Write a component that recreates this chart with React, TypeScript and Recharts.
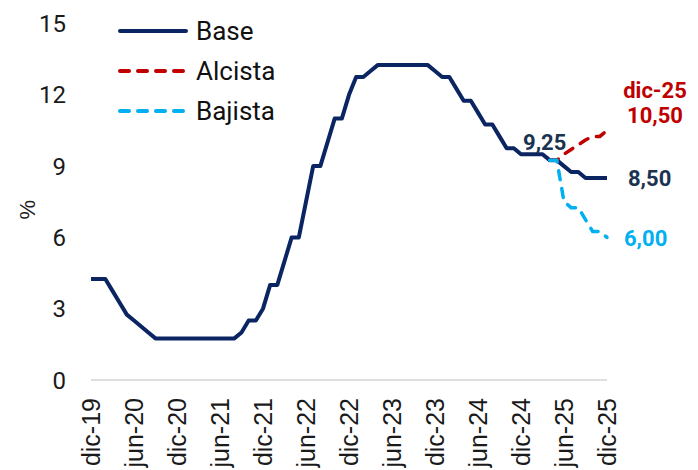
import React from 'react';
import { LineChart, Line, XAxis, YAxis, Legend, LabelList } from 'recharts';

const MONTHS = ['ene', 'feb', 'mar', 'abr', 'may', 'jun', 'jul', 'ago', 'sep', 'oct', 'nov', 'dic'];
const YEARS = ['20', '21', '22', '23', '24', '25'];
const categories: string[] = ['dic-19', ...YEARS.flatMap((y) => MONTHS.map((m) => `${m}-${y}`))];

const xTicks = ['dic-19', 'jun-20', 'dic-20', 'jun-21', 'dic-21', 'jun-22', 'dic-22', 'jun-23', 'dic-23', 'jun-24', 'dic-24', 'jun-25', 'dic-25'];
const yTicks = [0, 3, 6, 9, 12, 15];

// dic-19 .. dic-25 (73 months)
const base: number[] = [
  4.25, 4.25, 4.25, 3.75, 3.25, 2.75, 2.5, 2.25, 2.0, 1.75, 1.75, 1.75, 1.75,
  1.75, 1.75, 1.75, 1.75, 1.75, 1.75, 1.75, 1.75, 2.0, 2.5, 2.5, 3.0,
  4.0, 4.0, 5.0, 6.0, 6.0, 7.5, 9.0, 9.0, 10.0, 11.0, 11.0, 12.0,
  12.75, 12.75, 13.0, 13.25, 13.25, 13.25, 13.25, 13.25, 13.25, 13.25, 13.25, 13.0,
  12.75, 12.75, 12.25, 11.75, 11.75, 11.25, 10.75, 10.75, 10.25, 9.75, 9.75, 9.5,
  9.5, 9.5, 9.5, 9.25, 9.25, 9.0, 8.75, 8.75, 8.5, 8.5, 8.5, 8.5,
];
// scenarios from abr-25 (index 64) to dic-25
const alcistaTail: number[] = [9.25, 9.25, 9.5, 9.7, 9.9, 10.1, 10.25, 10.25, 10.5];
const bajistaTail: number[] = [9.25, 9.25, 7.5, 7.25, 7.25, 6.75, 6.25, 6.25, 6.0];
const scenarioStart = 64;

const data = categories.map((c, i) => ({
  mes: c,
  base: base[i],
  alcista: i >= scenarioStart ? alcistaTail[i - scenarioStart] : null,
  bajista: i >= scenarioStart ? bajistaTail[i - scenarioStart] : null,
}));

const NAVY = '#0b2462';
const RED = '#c00000';
const CYAN = '#00b0f0';
const LABEL_DARK = '#1b3350';
const LAST = categories.length - 1;

const fmt = (v: number) => v.toFixed(2).replace('.', ',');

const legendItems = [
  { key: 'base', name: 'Base', color: NAVY, dash: undefined as string | undefined },
  { key: 'alcista', name: 'Alcista', color: RED, dash: '9 9' },
  { key: 'bajista', name: 'Bajista', color: CYAN, dash: '9 9' },
];

const LegendContent = () => (
  <div style={{ fontFamily: 'Roboto, sans-serif', fontSize: 26, color: '#111' }}>
    {legendItems.map((it) => (
      <div key={it.key} style={{ display: 'flex', alignItems: 'center', height: 40 }}>
        <svg width={70} height={10} style={{ display: 'block' }}>
          <line x1={2} x2={68} y1={5} y2={5} stroke={it.color} strokeWidth={4} strokeLinecap="round" strokeDasharray={it.dash} />
        </svg>
        <span style={{ marginLeft: 8, lineHeight: '40px' }}>{it.name}</span>
      </div>
    ))}
  </div>
);

const XTick = (props: any) => {
  const { x, y, payload } = props;
  return (
    <g transform={`translate(${x},${y + 10})`}>
      <text transform="rotate(-90)" textAnchor="end" dominantBaseline="central" fontFamily="'Liberation Sans', Arial, sans-serif" fontSize={25} fill="#1a1a1a">
        {payload.value}
      </text>
    </g>
  );
};

const baseLabel = (props: any) => {
  const { x, y, index, value } = props;
  if (index === LAST) {
    return (
      <text x={x + 21} y={y + 1} dominantBaseline="central" fontFamily="Roboto, sans-serif" fontWeight={700} fontSize={22} fill={LABEL_DARK}>
        {fmt(value)}
      </text>
    );
  }
  if (index === scenarioStart) {
    return (
      <text x={x - 5} y={y - 18} textAnchor="middle" dominantBaseline="central" fontFamily="Roboto, sans-serif" fontWeight={700} fontSize={22} fill={LABEL_DARK}>
        {fmt(value)}
      </text>
    );
  }
  return null;
};

const alcistaLabel = (props: any) => {
  const { x, y, index, value } = props;
  if (index !== LAST) return null;
  return (
    <g fontFamily="Roboto, sans-serif" fontWeight={700} fontSize={22} fill={RED}>
      <text x={x + 48} y={y - 40} textAnchor="middle" dominantBaseline="central">
        {categories[LAST]}
      </text>
      <text x={x + 48} y={y - 15} textAnchor="middle" dominantBaseline="central">
        {fmt(value)}
      </text>
    </g>
  );
};

const bajistaLabel = (props: any) => {
  const { x, y, index, value } = props;
  if (index !== LAST) return null;
  return (
    <text x={x + 17} y={y + 1} dominantBaseline="central" fontFamily="Roboto, sans-serif" fontWeight={700} fontSize={22} fill={CYAN}>
      {fmt(value)}
    </text>
  );
};

const PercentLabel = (props: any) => {
  const { viewBox } = props;
  const cy = viewBox.y + viewBox.height / 2 + 8;
  return (
    <text x={19} y={cy} transform={`rotate(-90, 19, ${cy})`} textAnchor="middle" dominantBaseline="central" fontFamily="'Liberation Sans', Arial, sans-serif" fontSize={22} fill="#1a1a1a">
      %
    </text>
  );
};

export default function App() {
  return (
    <LineChart width={690} height={462} data={data} margin={{ top: 15.5, right: 91, bottom: 0, left: 0 }}>
      <XAxis
        dataKey="mes"
        ticks={xTicks}
        interval={0}
        tick={<XTick />}
        tickLine={false}
        axisLine={{ stroke: '#d4d4d4', strokeWidth: 1.5 }}
        height={90}
      />
      <YAxis
        domain={[0, 15]}
        ticks={yTicks}
        width={83}
        axisLine={false}
        tickLine={false}
        tickMargin={19}
        tick={{ fontFamily: 'Roboto, sans-serif', fontSize: 24, fill: '#1a1a1a' }}
        label={<PercentLabel />}
      />
      <Legend
        layout="horizontal"
        verticalAlign="middle"
        align="center"
        content={<LegendContent />}
        wrapperStyle={{ left: 110, top: 3, width: 'auto' }}
      />
      <Line type="linear" dataKey="base" name="Base" stroke={NAVY} strokeWidth={4} dot={false} isAnimationActive={false} strokeLinejoin="round">
        <LabelList dataKey="base" content={baseLabel} />
      </Line>
      <Line type="linear" dataKey="alcista" name="Alcista" stroke={RED} strokeWidth={3.5} strokeDasharray="9 9" strokeLinecap="round" dot={false} isAnimationActive={false}>
        <LabelList dataKey="alcista" content={alcistaLabel} />
      </Line>
      <Line type="linear" dataKey="bajista" name="Bajista" stroke={CYAN} strokeWidth={3.5} strokeDasharray="9 9" strokeLinecap="round" dot={false} isAnimationActive={false}>
        <LabelList dataKey="bajista" content={bajistaLabel} />
      </Line>
    </LineChart>
  );
}
